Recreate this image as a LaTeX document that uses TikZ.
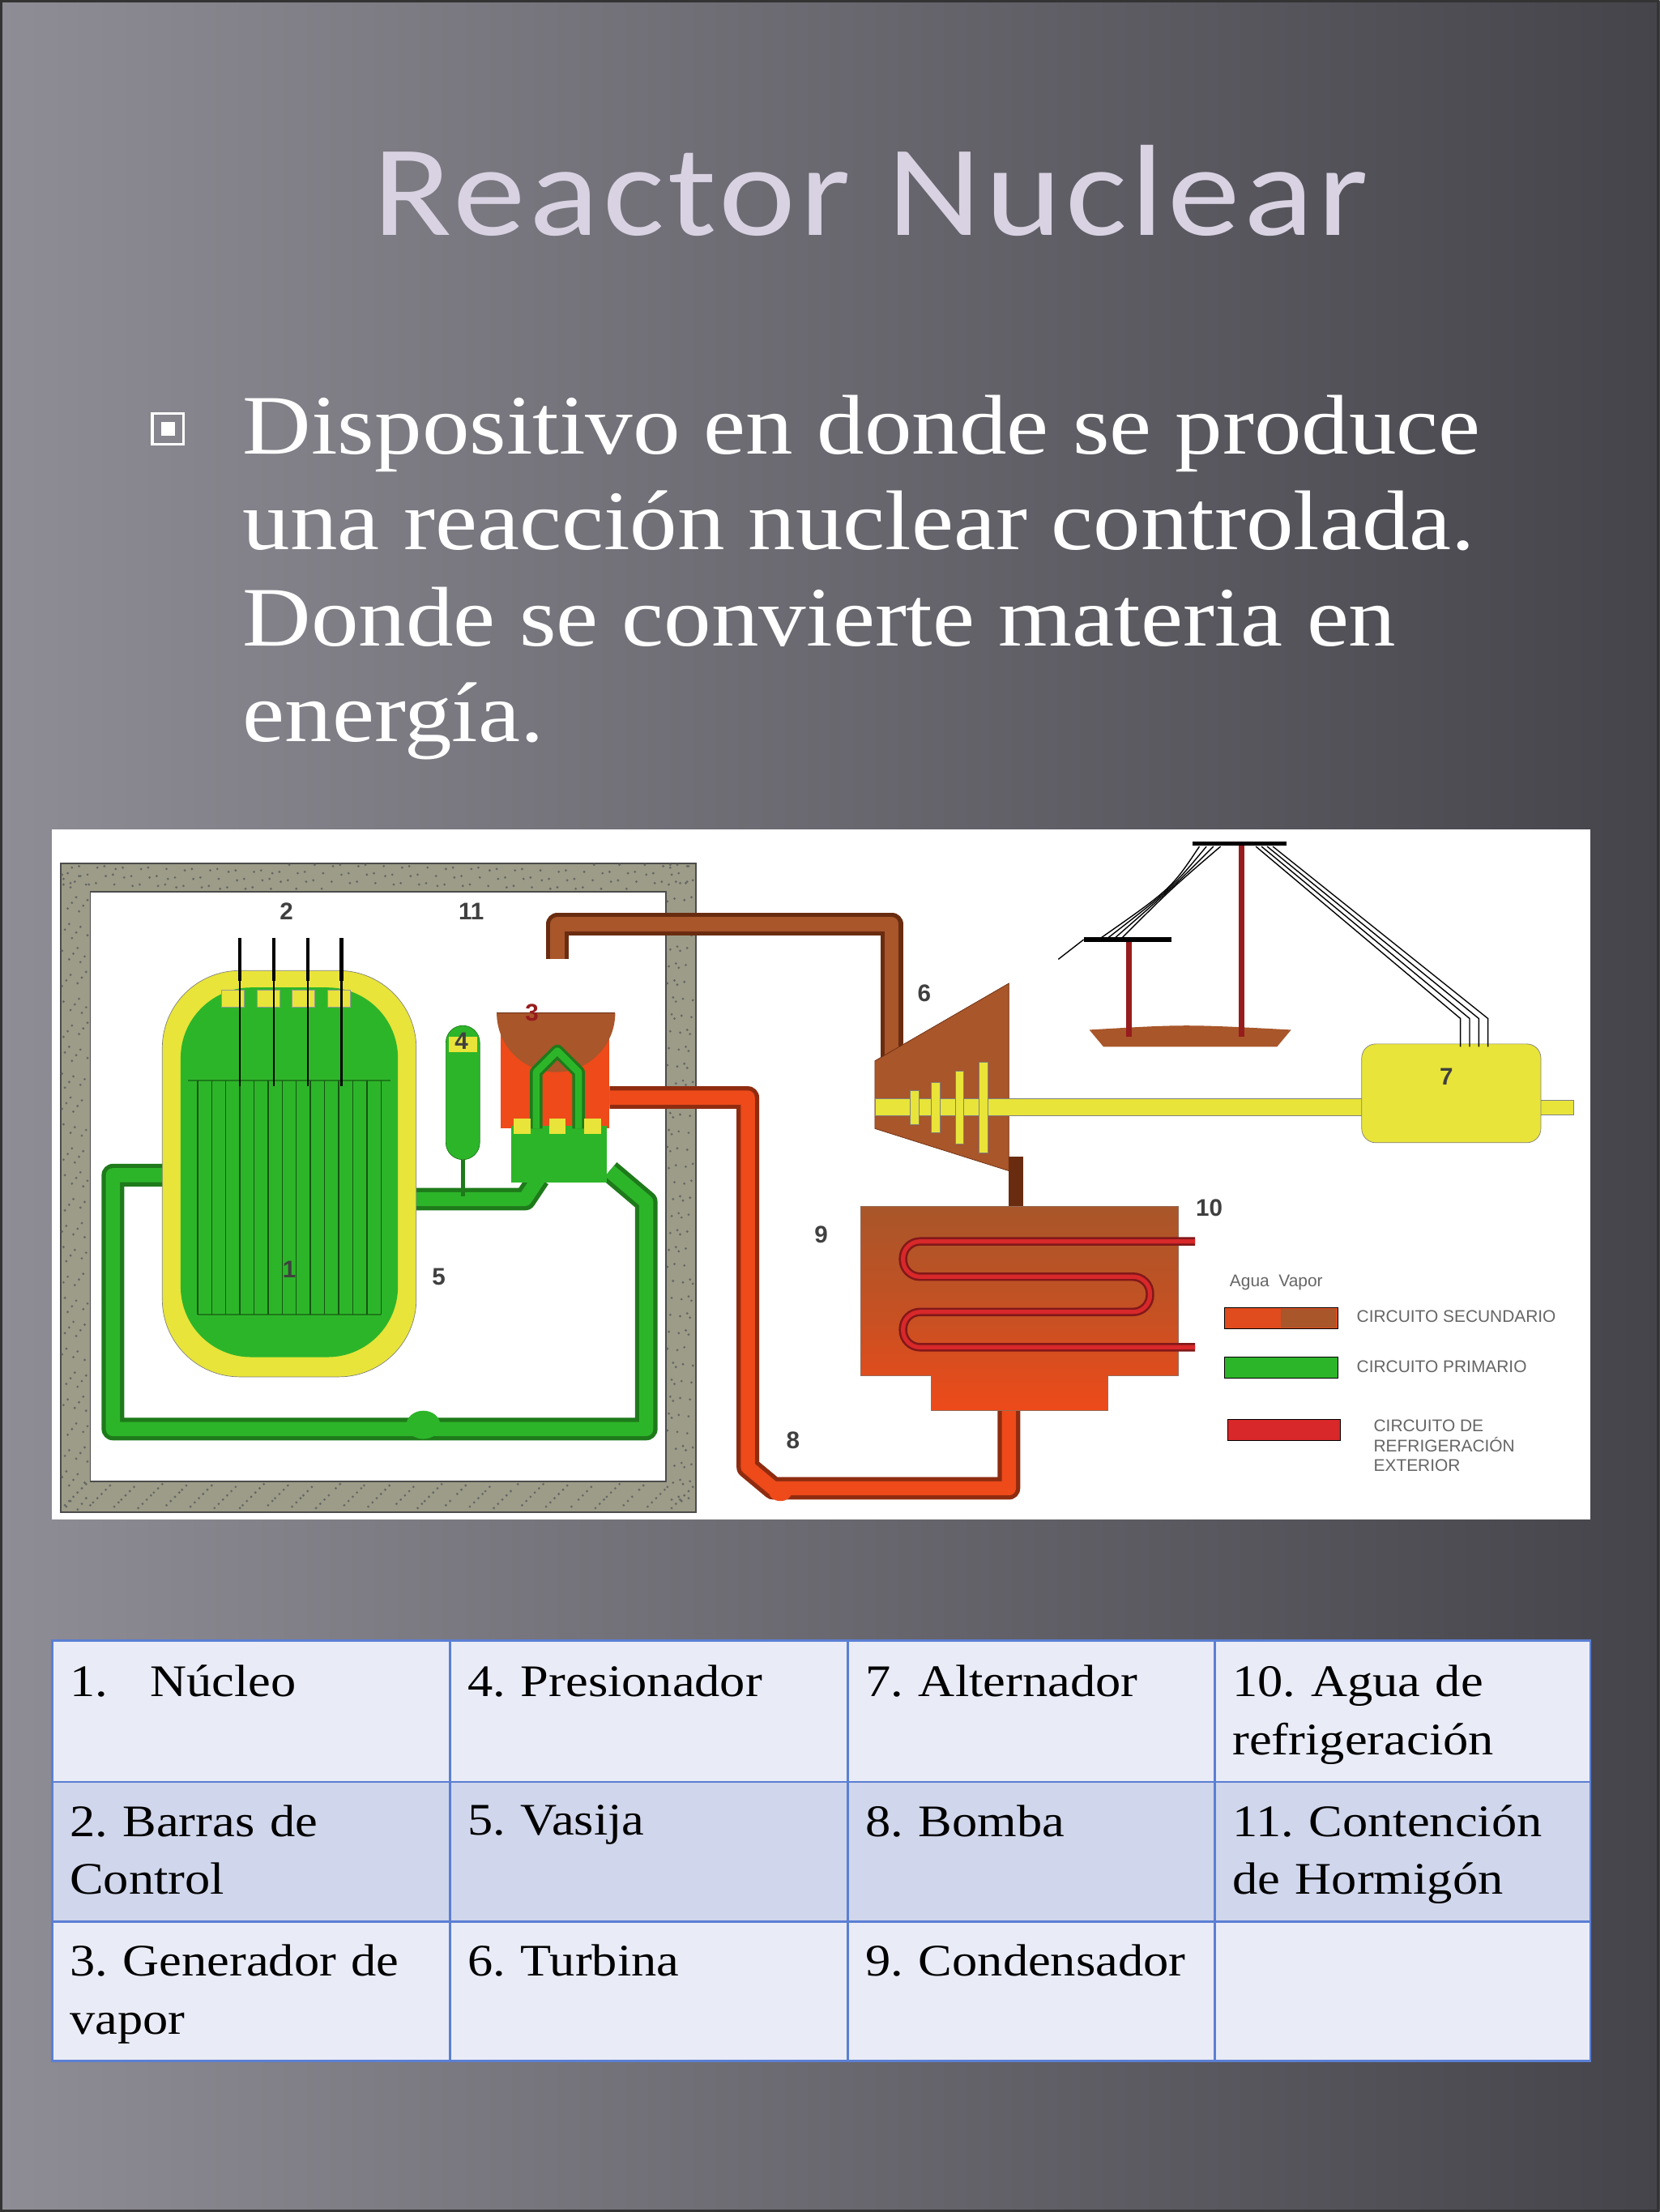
\documentclass[tikz,border=0pt]{standalone}
\usepackage{fontspec}
\setmainfont[FakeStretch=1.12]{Liberation Serif}
\newfontfamily\titlefont[FakeStretch=1.12,LetterSpace=3]{Carlito}
\newfontfamily\legfont{Liberation Sans}
\definecolor{bgA}{HTML}{8E8C94}
\definecolor{bgB}{HTML}{45444B}
\definecolor{ttl}{HTML}{D9D2E2}
\definecolor{tbA}{HTML}{E9EBF6}
\definecolor{tbB}{HTML}{D0D6EB}
\definecolor{tbL}{HTML}{5B7FD3}
\definecolor{conc}{HTML}{9C9C88}
\definecolor{gr}{HTML}{2DB52A}
\definecolor{grd}{HTML}{1E7A1A}
\definecolor{yel}{HTML}{E8E43A}
\definecolor{brn}{HTML}{A8562A}
\definecolor{brnd}{HTML}{6A2C10}
\definecolor{org}{HTML}{EE4A1A}
\definecolor{rd}{HTML}{D8282A}
\definecolor{lab}{HTML}{404040}
\frenchspacing
\begin{document}
\begin{tikzpicture}[x=1pt,y=-1pt,
  pipeO/.style={line width=16pt,line join=round},
  pipeI/.style={line width=10pt,line join=round},
  num/.style={font=\legfont\bfseries\fontsize{17}{17}\selectfont,text=lab},
  leg/.style={font=\legfont\fontsize{12}{14}\selectfont,text=gray!80!black,anchor=west,align=left},
  cell/.style={anchor=north west,font=\fontsize{32}{41}\selectfont,align=left,text width=250pt}]
\useasboundingbox (0,0) rectangle (1176,1568);
\shade[shading angle=135,left color=bgA,right color=bgB] (0,0) rectangle (1176,1568);
\draw[black!80,line width=1.5pt] (1,1) rectangle (1175,1567);
% title
\node[font=\titlefont\fontsize{92}{92}\selectfont,text=ttl] (title) at (617,135) {Reactor Nuclear};
% bullet
\draw[white,line width=2pt] (108,293) rectangle (130,315);
\fill[white] (114,299) rectangle (124,309);
\node[anchor=north west,text=white,font=\fontsize{60}{68}\selectfont,align=left,inner sep=0] (body) at (172,280)
 {Dispositivo en donde se produce\\una reacción nuclear controlada.\\Donde se convierte materia en\\energía.};
% diagram panel
\fill[white] (37,588) rectangle (1127,1077);
% concrete
\fill[conc,even odd rule] (43,612) rectangle (493,1072) (64,632) rectangle (472,1050);
\draw[black!70,line width=1pt] (43,612) rectangle (493,1072) (64,632) rectangle (472,1050);
\foreach \i in {1,...,150}{
 \fill[black!60] ({43+mod(\i*37,450)},{613+mod(\i*7,18)}) circle (0.9);
 \fill[black!60] ({43+mod(\i*43,450)},{1052+mod(\i*11,18)}) circle (0.9);
 \fill[black!60] ({44+mod(\i*7,19)},{612+mod(\i*53,460)}) circle (0.9);
 \fill[black!60] ({473+mod(\i*7,19)},{612+mod(\i*59,460)}) circle (0.9);}
% green loop
\draw[grd,pipeO] (130,833)--(80,833)--(80,1013)--(458,1013)--(458,852)--(432,830);
\draw[gr,pipeI] (130,833)--(80,833)--(80,1013)--(458,1013)--(458,852)--(432,830);
\draw[grd,pipeO] (285,850)--(372,850)--(382,835);
\draw[gr,pipeI] (285,850)--(372,850)--(382,835);
\fill[gr] (300,1010) ellipse (12 and 10);
% reactor vessel
\fill[yel,rounded corners=55,draw=black!50] (115,688) rectangle (295,976);
\fill[gr,rounded corners=50] (128,700) rectangle (282,962);
\foreach \x in {165,190,215,240}{\fill[yel,draw=black!40] (\x-8,702) rectangle (\x+8,714);}
\draw[grd,line width=1pt] (133,766)--(277,766) (140,932)--(270,932);
\foreach \x in {140,150,...,270}{\draw[grd!70!black,line width=0.8pt] (\x,766)--(\x,932);}
\node[num] (n1) at (205,900) {1};
% control rods
\foreach \x in {170,194,218,242}{\draw[black,line width=1.2pt] (\x,680)--(\x,770);\draw[black,line width=2.5pt] (\x,665)--(\x,695);}
% pressurizer
\draw[grd,line width=3pt] (328,822)--(328,848);
\fill[gr,rounded corners=12,draw=grd] (316,727) rectangle (340,822);
\fill[yel] (318,735) rectangle (338,746);
% steam pipe (brown)
\draw[brnd,pipeO] (395,680)--(395,655)--(632,655)--(632,752);
\draw[brn,pipeI] (395,680)--(395,655)--(632,655)--(632,752);
% red water pipe
\draw[org!60!black,pipeO] (432,778)--(530,778)--(530,1040)--(548,1055)--(715,1055)--(715,1000);
\draw[org,pipeI] (432,778)--(530,778)--(530,1040)--(548,1055)--(715,1055)--(715,1000);
\fill[org] (553,1058) ellipse (8 and 6);
% steam generator
\fill[org] (355,718) rectangle (432,800);
\fill[brn] (352,718) arc (180:0:42) -- cycle;
\draw[brnd,line width=1pt] (352,718)--(436,718);
\fill[gr] (362,798) rectangle (430,838);
\draw[grd,line width=9pt,line join=round] (380,800)--(380,760)--(395,745)--(410,760)--(410,800);
\draw[gr,line width=5pt,line join=round] (380,800)--(380,760)--(395,745)--(410,760)--(410,800);
\foreach \x in {370,395,420}{\fill[yel] (\x-6,793) rectangle (\x+6,804);}
% turbine
\draw[brnd,line width=10pt] (720,820)--(720,858);
\fill[brn,draw=brnd] (620,752)--(715,697)--(715,830)--(620,800)--cycle;
% shaft
\fill[yel,draw=black!50] (620,779) rectangle (970,791);
\foreach \x/\h in {648/12,663/18,680/26,697/32}{\fill[yel,draw=black!50] (\x-3,785-\h) rectangle (\x+3,785+\h);}
% alternator
\fill[yel,draw=black!50] (1085,780) rectangle (1115,790);
\fill[yel,rounded corners=10,draw=black!50] (965,740) rectangle (1092,810);
\node[num] (n7) at (1025,763) {7};
% pylons
\fill[brn] (772,730) .. controls (840,726) .. (915,730) -- (905,742) -- (782,742) -- cycle;
\draw[rd!70!black,line width=4pt] (880,598)--(880,735) (800,667)--(800,735);
\draw[black,line width=3pt] (845,598)--(912,598) (768,666)--(830,666);
\foreach \d in {0,5,10,15}{
 \draw[black,line width=0.8pt] (850+\d,600) .. controls (830,630) .. (780+\d,665);
 \draw[black,line width=0.8pt] (890+\d*0.8,600)--(1035+\d*1.3,722)--(1035+\d*1.3,742);}
\draw[black,line width=0.8pt] (768,666)--(750,680);
% condenser
\shade[top color=brn,bottom color=org,middle color=brn!60!org] (610,855)--(835,855)--(835,975)--(785,975)--(785,1000)--(660,1000)--(660,975)--(610,975)--cycle;
\draw[brnd!70,line width=0.6pt] (610,855)--(835,855)--(835,975)--(785,975)--(785,1000)--(660,1000)--(660,975)--(610,975)--cycle;
\draw[rd!60!black,line width=6pt,rounded corners=12] (847,880)--(640,880)--(640,905)--(815,905)--(815,930)--(640,930)--(640,955)--(847,955);
\draw[rd,line width=3pt,rounded corners=12] (847,880)--(640,880)--(640,905)--(815,905)--(815,930)--(640,930)--(640,955)--(847,955);
% numbers
\node[num] (n2) at (203,646) {2};
\node[num] (n11) at (334,646) {11};
\node[num,text=rd!70!black] (n3) at (377,718) {3};
\node[num] (n4) at (327,738) {4};
\node[num] (n5) at (311,905) {5};
\node[num] (n6) at (655,704) {6};
\node[num] (n9) at (582,875) {9};
\node[num] (n10) at (857,856) {10};
\node[num] (n8) at (562,1021) {8};
% legend
\node[leg] (lagua) at (868,909) {Agua\ \ Vapor};
\fill[org!80!brn,draw=black] (868,927) rectangle (948,942);
\fill[brn] (908,928) rectangle (947,941);
\fill[gr,draw=black] (868,962) rectangle (948,977);
\fill[rd,draw=black] (870,1006) rectangle (950,1021);
\node[leg] (l1) at (958,933) {CIRCUITO SECUNDARIO};
\node[leg] (l2) at (958,969) {CIRCUITO PRIMARIO};
\node[leg,anchor=north west] (l3) at (970,1003) {CIRCUITO DE\\REFRIGERACIÓN\\EXTERIOR};
% table
\fill[tbA] (37,1163) rectangle (1127,1263);
\fill[tbB] (37,1263) rectangle (1127,1362);
\fill[tbA] (37,1362) rectangle (1127,1461);
\draw[tbL,line width=1.5pt] (37,1163) rectangle (1127,1461) (37,1263)--(1127,1263) (37,1362)--(1127,1362)
 (319,1163)--(319,1461) (601,1163)--(601,1461) (861,1163)--(861,1461);
\node[cell] (c11) at (46,1177) {1.\hspace{30pt}Núcleo};
\node[cell] (c12) at (328,1177) {4. Presionador};
\node[cell] (c13) at (610,1177) {7. Alternador};
\node[cell] (c14) at (870,1177) {10. Agua de\\refrigeración};
\node[cell] (c21) at (46,1276) {2. Barras de\\Control};
\node[cell] (c22) at (328,1276) {5. Vasija};
\node[cell] (c23) at (610,1276) {8. Bomba};
\node[cell] (c24) at (870,1276) {11. Contención\\de Hormigón};
\node[cell] (c31) at (46,1375) {3. Generador de\\vapor};
\node[cell] (c32) at (328,1375) {6. Turbina};
\node[cell] (c33) at (610,1375) {9. Condensador};
\end{tikzpicture}
\end{document}
